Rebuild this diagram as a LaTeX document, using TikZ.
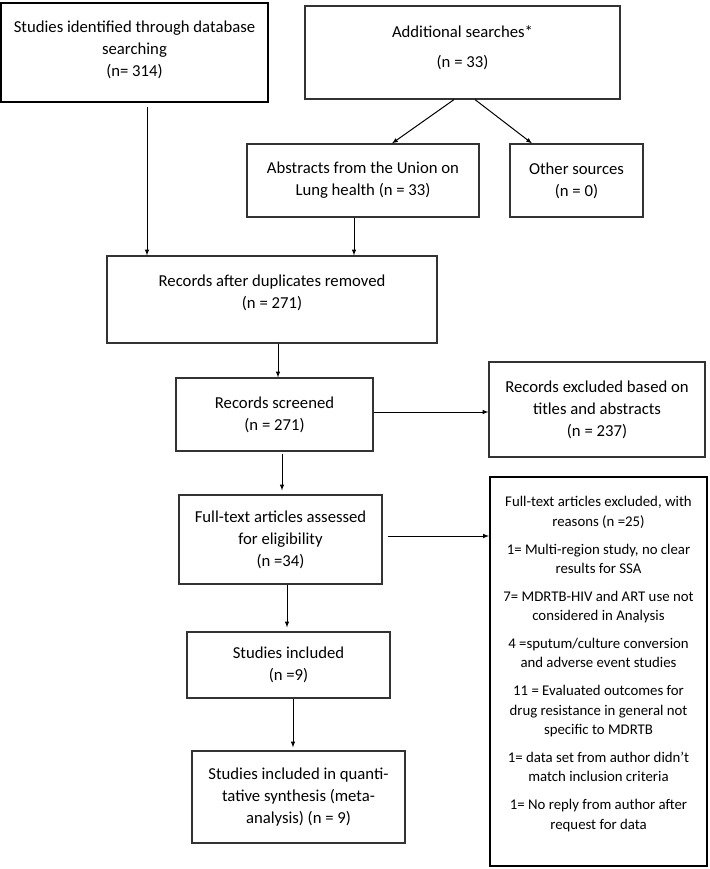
\documentclass[tikz,border=0pt]{standalone}
\usepackage{fontspec}
\setmainfont{Carlito}
\tikzset{
    flow-box/.style = {draw=black!80, line width=1.2pt, rectangle, align=center, inner sep=2pt, font=\fontsize{16.7}{22}\selectfont},
    flow-box-thick/.style = {flow-box, draw=black, line width=2pt},
    flow-box-small/.style = {flow-box-thick, font=\fontsize{14.8}{19.3}\selectfont},
    flow-arrow/.style = {draw=black, line width=1pt, -latex},
}

\begin{document}
\begin{tikzpicture}[x=1pt, y=-1pt]
\useasboundingbox (0,0) rectangle (709,869);
% identification
\node [flow-box-thick, minimum width=267, minimum height=99] (identified) at (134.5,52.5) {Studies identified through database\\searching\\(n= 314)\\[-14pt]\mbox{}};
\node [flow-box, minimum width=315, minimum height=93] (additional) at (462.5,52.5) {Additional searches*\\[8pt](n = 33)\\[-10pt]\mbox{}};
\node [flow-box, minimum width=232, minimum height=73] (union) at (363,180.5) {Abstracts from the Union on\\Lung health (n = 33)};
\node [flow-box, minimum width=133, minimum height=73] (other) at (576.5,180.5) {Other sources\\(n = 0)};
% screening
\node [flow-box, minimum width=330, minimum height=87] (duplicates) at (272,299.5) {Records after duplicates removed\\(n = 271)\\[-6pt]\mbox{}};
\node [flow-box, minimum width=197, minimum height=73] (screened) at (274.5,414.5) {Records screened\\(n = 271)};
\node [flow-box, minimum width=216, minimum height=95] (excluded) at (597,409.5) {Records excluded based on\\titles and abstracts\\(n = 237)};
% eligibility
\node [flow-box, minimum width=203, minimum height=89] (fulltext) at (280.5,539.5) {Full-text articles assessed\\for eligibility\\(n =34)};
\node [flow-box-small, minimum width=217, minimum height=389] (reasons) at (598.5,671.5) {Full-text articles excluded, with\\reasons (n =25)\\[8.7pt]1= Multi-region study, no clear\\results for SSA\\[8.7pt]7= MDRTB-HIV and ART use not\\considered in Analysis\\[8.7pt]4 =sputum/culture conversion\\and adverse event studies\\[8.7pt]11 = Evaluated outcomes for\\drug resistance in general not\\specific to MDRTB\\[8.7pt]1= data set from author didn’t\\match inclusion criteria\\[8.7pt]1= No reply from author after\\request for data\\[-2pt]\mbox{}};
% included
\node [flow-box, minimum width=203, minimum height=66] (included) at (288.5,665) {Studies included\\(n =9)};
\node [flow-box, minimum width=213, minimum height=92] (synthesis) at (298.5,797) {Studies included in quanti-\\tative synthesis (meta-\\analysis) (n = 9)};

\draw [flow-arrow] ([xshift=12.5pt,yshift=-4pt]identified.south) -- ([xshift=12.5pt]identified.south |- duplicates.north);
\draw [flow-arrow] ([xshift=-8.5pt]additional.south) -- ([xshift=29pt]union.north);
\draw [flow-arrow] ([xshift=12.5pt]additional.south) -- ([xshift=-44.5pt]other.north);
\draw [flow-arrow] ([xshift=-9pt]union.south) -- ([xshift=-9pt]union.south |- duplicates.north);
\draw [flow-arrow] ([xshift=6pt]duplicates.south) -- ([xshift=6pt]duplicates.south |- screened.north);
\draw [flow-arrow] ([yshift=2.5pt]screened.east) -- ([yshift=2.5pt]screened.east -| excluded.west);
\draw [flow-arrow] ([xshift=7.5pt,yshift=-2pt]screened.south) -- ([xshift=7.5pt,yshift=4pt]screened.south |- fulltext.north);
\draw [flow-arrow] ([xshift=5pt,yshift=3.5pt]fulltext.east) -- ([yshift=3.5pt]fulltext.east -| reasons.west);
\draw [flow-arrow] ([xshift=6.5pt]fulltext.south) -- ([xshift=6.5pt,yshift=4pt]fulltext.south |- included.north);
\draw [flow-arrow] ([xshift=4.5pt]included.south) -- ([xshift=4.5pt,yshift=3pt]included.south |- synthesis.north);
\end{tikzpicture}
\end{document}
